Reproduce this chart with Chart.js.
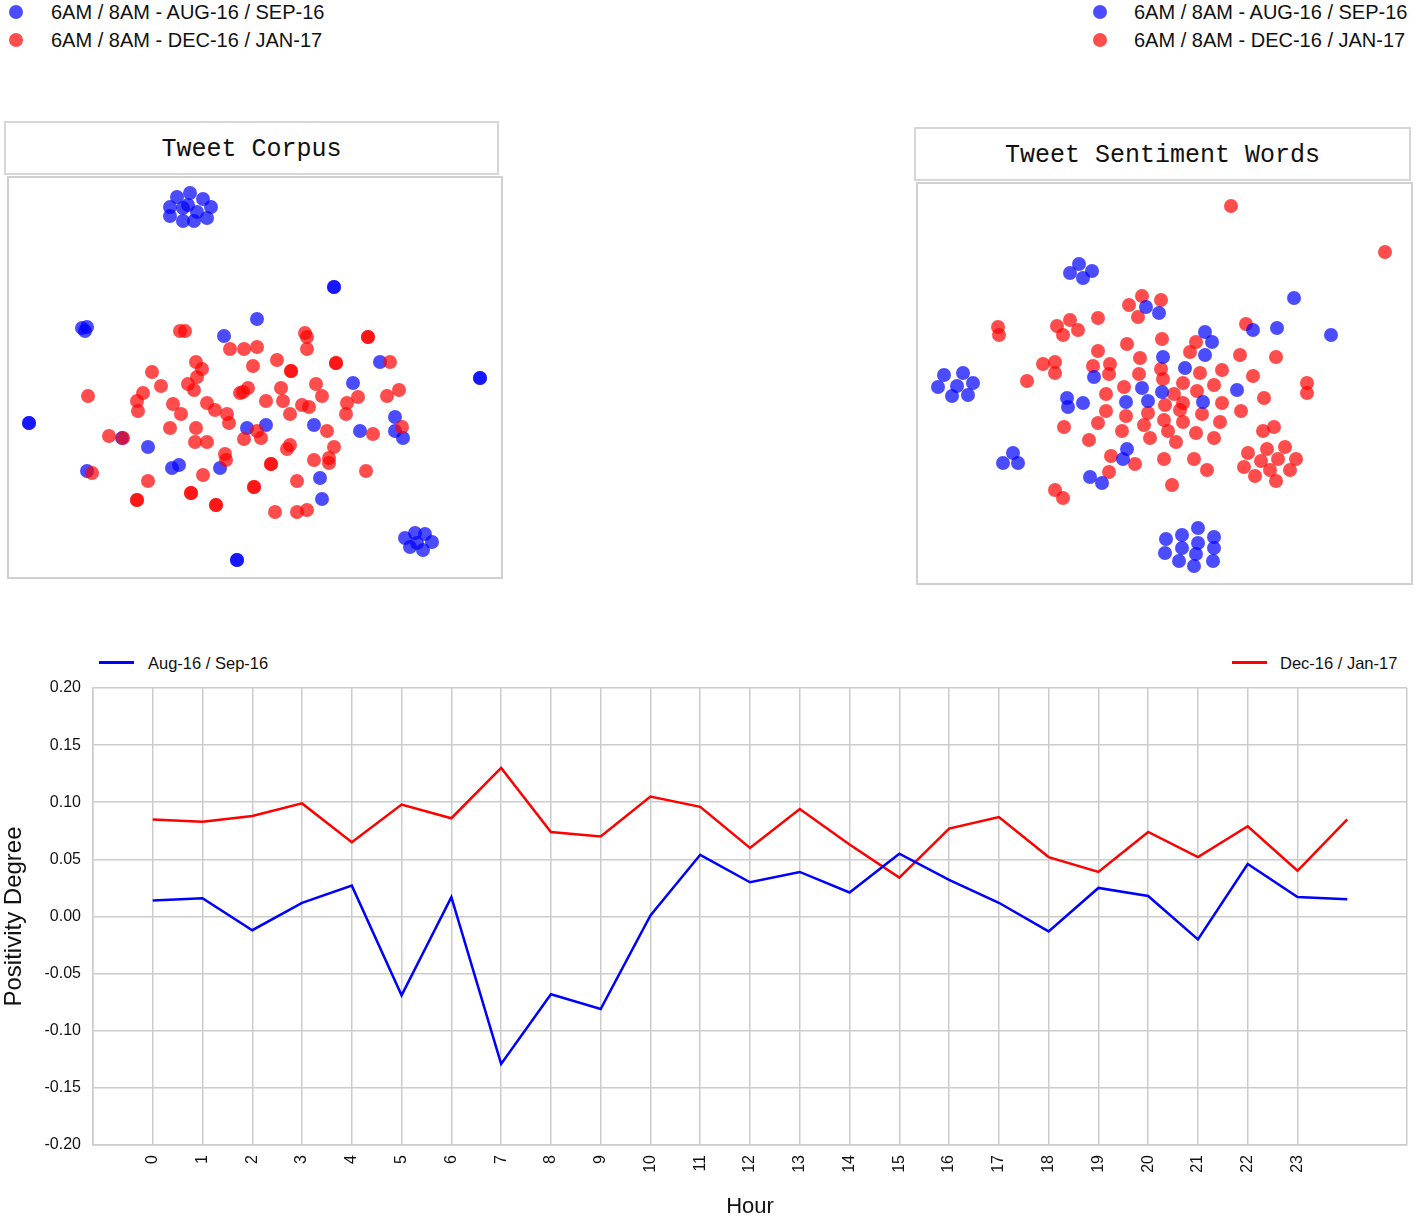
<!DOCTYPE html>
<html>
<head>
<meta charset="utf-8">
<script src="https://cdn.jsdelivr.net/npm/chart.js@4.4.1/dist/chart.umd.min.js"></script>
<style>
body { margin:0; background:#fff; width:1418px; height:1217px; position:relative; overflow:hidden; font-family:"Liberation Sans", Arial, sans-serif; color:#111; }
.dot { position:absolute; width:14px; height:14px; border-radius:50%; filter:blur(0.6px); }
.leg { position:absolute; font-size:20px; line-height:24px; white-space:nowrap; }
.titlebox { position:absolute; border:2px solid #d6d6d6; box-sizing:border-box; height:54px; line-height:54px; text-align:center; font-family:"Liberation Mono","Courier New",monospace; font-size:25px; }
.plotbox { position:absolute; border:2px solid #d0d0d0; box-sizing:border-box; }
.plotbox canvas { display:block; }
.lleg { position:absolute; font-size:16.5px; line-height:20px; white-space:nowrap; }
.lline { position:absolute; height:3px; }
</style>
</head>
<body>

<div class="dot" style="left:9px;top:5px;background:rgba(0,0,255,0.7)"></div>
<div class="leg" style="left:51px;top:0px">6AM / 8AM - AUG-16 / SEP-16</div>
<div class="dot" style="left:9px;top:33px;background:rgba(255,0,0,0.7)"></div>
<div class="leg" style="left:51px;top:28px">6AM / 8AM - DEC-16 / JAN-17</div>

<div class="dot" style="left:1093px;top:5px;background:rgba(0,0,255,0.7)"></div>
<div class="leg" style="left:1134px;top:0px">6AM / 8AM - AUG-16 / SEP-16</div>
<div class="dot" style="left:1093px;top:33px;background:rgba(255,0,0,0.7)"></div>
<div class="leg" style="left:1134px;top:28px">6AM / 8AM - DEC-16 / JAN-17</div>

<div class="titlebox" style="left:4px;top:121px;width:495px">Tweet Corpus</div>
<div class="plotbox" style="left:7px;top:176px;width:496px;height:403px">
  <canvas id="corpus" width="492" height="399"></canvas>
</div>

<div class="titlebox" style="left:914px;top:127px;width:497px">Tweet Sentiment Words</div>
<div class="plotbox" style="left:916px;top:182px;width:497px;height:403px">
  <canvas id="sentiment" width="493" height="399"></canvas>
</div>

<div class="lline" style="left:99px;top:661px;width:35px;background:#0000ff"></div>
<div class="lleg" style="left:148px;top:653px">Aug-16 / Sep-16</div>
<div class="lline" style="left:1232px;top:661px;width:35px;background:#ff0000"></div>
<div class="lleg" style="left:1280px;top:653px">Dec-16 / Jan-17</div>

<div style="position:absolute;left:0;top:680px;width:1418px;height:537px">
  <canvas id="hourly" width="1418" height="537"></canvas>
</div>

<script>
// t-SNE style projections, [x, y]
const corpusAug = [
  [34.0,76.4],[36.6,77.2],[39.2,76.0],[32.6,74.4],[35.2,74.2],[38.0,73.4],[40.8,74.4],
  [32.6,72.6],[35.2,71.6],[37.4,71.6],[40.0,72.2],[36.2,74.8],
  [65.4,58.4],[65.4,58.4],[15.0,50.2],[16.0,50.4],[15.6,49.6],
  [94.6,40.2],[94.6,40.2],[4.4,31.2],[4.4,31.2],[46.0,3.8],[46.0,3.8],
  [79.6,8.2],[81.6,9.2],[83.6,9.0],[85.0,7.4],[83.2,5.8],[80.6,6.4],[82.0,7.2],
  [50.0,52.0],[43.4,48.6],[74.6,43.4],[69.2,39.2],[77.6,32.4],[77.6,29.6],[79.2,28.2],
  [70.6,29.6],[61.4,30.8],[51.8,30.8],[48.0,30.2],[23.0,28.2],[28.2,26.4],[33.0,22.2],
  [34.4,22.8],[42.6,22.2],[16.0,21.6],[62.6,20.2],[63.0,16.0]
];
const corpusDec = [
  [34.6,49.6],[35.6,49.6],[59.6,49.2],[60.0,48.4],[72.2,48.4],[72.2,48.4],[44.6,46.0],
  [47.4,46.0],[50.0,46.4],[60.0,46.0],[37.8,43.4],[39.0,42.0],[49.2,42.6],[54.0,43.8],
  [56.8,41.6],[56.8,41.6],[65.8,43.2],[65.8,43.2],[76.6,43.4],[29.0,41.4],[30.8,38.6],
  [38.0,40.4],[36.2,39.0],[37.4,37.8],[46.6,37.2],[48.2,38.2],[47.2,37.4],[54.8,38.2],
  [61.8,39.0],[63.0,36.6],[70.2,36.4],[68.0,35.2],[67.8,33.0],[76.0,36.6],[78.4,37.8],
  [16.2,36.6],[27.2,37.2],[26.0,35.6],[26.2,33.6],[33.2,35.0],[34.8,33.0],[40.0,35.2],
  [41.6,33.8],[51.8,35.6],[55.2,35.6],[56.6,33.0],[59.0,34.8],[60.4,34.4],[44.0,33.0],
  [44.4,31.2],[32.6,30.2],[37.8,30.2],[37.6,27.4],[40.0,27.4],[47.4,28.0],[50.0,29.6],
  [50.8,28.2],[64.0,29.6],[65.4,26.4],[73.2,29.0],[79.0,30.4],[20.4,28.6],[23.2,28.2],
  [43.6,25.0],[43.8,23.8],[56.6,26.8],[56.0,26.0],[52.8,23.0],[52.8,23.0],[61.4,23.8],
  [64.4,24.2],[64.4,23.2],[71.8,21.6],[17.0,21.2],[28.2,19.6],[39.2,20.8],[58.0,19.6],
  [26.0,15.8],[26.0,15.8],[36.8,17.2],[36.8,17.2],[41.8,14.8],[41.8,14.8],[49.4,18.4],
  [49.4,18.4],[53.6,13.4],[58.0,13.4],[60.0,13.8]
];
const sentimentAug = [
  [30.8,62.4],[32.6,64.2],[35.2,62.8],[33.4,61.4],[46.0,55.6],[48.6,54.4],
  [75.6,57.4],[83.0,50.0],[72.2,51.4],[67.4,51.0],[57.8,50.6],[59.2,48.6],[57.8,46.0],
  [49.4,45.6],[53.8,43.4],[35.6,41.6],[45.2,39.4],[49.2,38.6],[64.2,39.0],[30.2,37.4],
  [30.4,35.6],[33.4,36.4],[42.0,36.6],[46.4,36.8],[57.4,36.6],[42.2,27.2],[41.4,25.2],
  [34.8,21.6],[37.2,20.4],[19.4,26.4],[17.4,24.4],[20.4,24.4],
  [5.6,42.0],[9.4,42.4],[11.4,40.4],[8.2,39.8],[4.4,39.6],[7.2,37.8],[10.4,38.0],
  [50.0,9.2],[53.2,10.0],[56.4,11.4],[59.6,9.6],[49.8,6.4],[53.2,7.4],[56.4,8.4],
  [59.6,7.4],[52.6,4.8],[56.0,6.2],[55.6,3.8],[59.4,4.8]
];
const sentimentDec = [
  [63.0,75.8],[93.8,66.6],[45.2,57.8],[49.0,57.0],[42.6,56.0],[44.4,53.6],[66.0,52.2],
  [16.4,51.6],[16.6,50.0],[28.2,51.8],[30.8,53.0],[32.4,51.0],[29.4,50.0],[36.4,53.4],
  [56.0,48.6],[54.8,46.6],[49.2,49.2],[42.2,48.2],[36.4,46.8],[44.8,45.4],[64.8,46.0],
  [72.0,45.6],[25.4,44.2],[27.8,44.6],[27.8,42.4],[22.2,40.8],[35.4,43.8],[38.8,44.2],
  [38.6,42.2],[44.6,42.2],[49.0,43.2],[49.4,41.2],[56.8,42.4],[61.2,43.0],[67.4,41.8],
  [78.2,40.4],[78.2,38.4],[53.4,40.4],[59.6,40.0],[41.6,39.6],[56.2,38.8],[51.6,38.2],
  [69.6,37.4],[38.0,38.2],[53.4,36.4],[49.8,36.0],[52.8,35.0],[61.2,36.4],[65.0,34.8],
  [38.0,34.8],[42.0,33.8],[46.4,34.4],[57.2,34.2],[49.6,33.0],[53.4,32.6],[60.8,32.6],
  [36.4,32.4],[45.6,32.0],[29.6,31.6],[41.2,30.8],[50.4,30.8],[56.0,30.4],[69.4,30.8],
  [71.6,31.6],[34.6,29.0],[46.8,29.4],[52.0,28.6],[59.6,29.4],
  [66.4,26.4],[70.2,27.2],[73.8,27.6],[76.0,25.2],[72.4,25.2],[69.0,24.8],[65.6,23.6],
  [70.8,23.0],[74.8,23.0],[67.8,21.8],[72.0,20.8],
  [39.0,25.8],[43.8,24.2],[49.6,25.2],[55.6,25.2],[58.2,23.0],[38.6,22.6],[51.2,20.0],
  [27.8,19.0],[29.4,17.4]
];

const hours = [0,1,2,3,4,5,6,7,8,9,10,11,12,13,14,15,16,17,18,19,20,21,22,23,24];
const hourLabels = ['0','1','2','3','4','5','6','7','8','9','10','11','12','13','14','15','16','17','18','19','20','21','22','23'];
const augSep = [0.014,0.016,-0.012,0.012,0.027,-0.069,0.017,-0.129,-0.068,-0.081,0.001,0.054,0.030,
                0.039,0.021,0.055,0.032,0.012,-0.013,0.025,0.018,-0.020,0.046,0.017,0.015];
const decJan = [0.085,0.083,0.088,0.099,0.065,0.098,0.086,0.130,0.074,0.070,0.105,0.096,0.060,
                0.094,0.063,0.034,0.077,0.087,0.052,0.039,0.074,0.052,0.079,0.040,0.085];
const yTicks = [-0.20,-0.15,-0.10,-0.05,0.00,0.05,0.10,0.15,0.20];

const blueDot = 'rgba(0,0,255,0.7)';
const redDot = 'rgba(255,0,0,0.7)';
const gridGrey = '#cccccc';

function toPoints(list) {
  return list.map(p => ({x: p[0], y: p[1]}));
}

function scatter(id, blue, red, xMax, redOnTop) {
  const ctx = document.getElementById(id).getContext('2d');
  new Chart(ctx, {
    type: 'scatter',
    data: {
      datasets: [
        {data: toPoints(blue), backgroundColor: blueDot, borderWidth: 0, pointRadius: 7, order: redOnTop ? 1 : 0, clip: false},
        {data: toPoints(red), backgroundColor: redDot, borderWidth: 0, pointRadius: 7, order: redOnTop ? 0 : 1, clip: false}
      ]
    },
    options: {
      responsive: false,
      animation: false,
      layout: {padding: 0, autoPadding: false},
      plugins: {legend: {display: false}, tooltip: {enabled: false}},
      scales: {
        x: {type: 'linear', display: false, min: 0.4, max: xMax},
        y: {type: 'linear', display: false, min: 0.4, max: 80.2}
      }
    }
  });
}

scatter('corpus', corpusAug, corpusDec, 98.8, true);
scatter('sentiment', sentimentAug, sentimentDec, 99.0, false);

const isHour = v => Number.isInteger(v) && hourLabels.includes(String(v));

const lineCtx = document.getElementById('hourly').getContext('2d');
new Chart(lineCtx, {
  type: 'line',
  data: {
    datasets: [
      {label: 'Aug-16 / Sep-16', data: hours.map((h, i) => ({x: h, y: augSep[i]})),
       borderColor: '#0000ff', borderWidth: 2.5, pointRadius: 0, tension: 0, fill: false},
      {label: 'Dec-16 / Jan-17', data: hours.map((h, i) => ({x: h, y: decJan[i]})),
       borderColor: '#ff0000', borderWidth: 2.5, pointRadius: 0, tension: 0, fill: false}
    ]
  },
  options: {
    responsive: false,
    animation: false,
    layout: {padding: {top: 8, right: 11, left: 0, bottom: 0}},
    plugins: {legend: {display: false}, tooltip: {enabled: false}},
    scales: {
      x: {
        type: 'linear', min: -1.2, max: 25.2,
        afterFit: s => { s.height = 72; s.paddingLeft = 0; s.paddingRight = 0; },
        border: {color: gridGrey, width: 1.5},
        grid: {
          drawTicks: false, lineWidth: 1.5,
          color: c => {
            const v = c.tick ? c.tick.value : null;
            if (v === null) return 'transparent';
            if (Math.abs(v - c.scale.min) < 1e-6 || Math.abs(v - c.scale.max) < 1e-6) return gridGrey;
            return isHour(v) ? gridGrey : 'transparent';
          }
        },
        ticks: {
          stepSize: 1, autoSkip: false, minRotation: 90, maxRotation: 90, padding: 10,
          color: '#111', font: {family: '"Liberation Sans", Arial', size: 16},
          callback: v => isHour(v) ? String(v) : ''
        },
        title: {display: true, text: 'Hour', color: '#111', font: {family: '"Liberation Sans", Arial', size: 22}, padding: {top: 0, bottom: -3}}
      },
      y: {
        type: 'linear', min: yTicks[0], max: yTicks[yTicks.length - 1],
        afterFit: s => { s.width = 93; s.paddingTop = 0; s.paddingBottom = 0; },
        afterBuildTicks: s => { s.ticks = yTicks.map(v => ({value: v})); },
        border: {color: gridGrey, width: 1.5},
        grid: {drawTicks: false, lineWidth: 1.5, color: gridGrey},
        ticks: {
          padding: 12, color: '#111', font: {family: '"Liberation Sans", Arial', size: 16},
          callback: v => Math.abs(v) < 1e-9 ? '0.00' : Number(v).toFixed(2)
        },
        title: {display: true, text: 'Positivity Degree', color: '#111', font: {family: '"Liberation Sans", Arial', size: 24}, padding: {top: 0, bottom: 0}}
      }
    }
  }
});
</script>
</body>
</html>
